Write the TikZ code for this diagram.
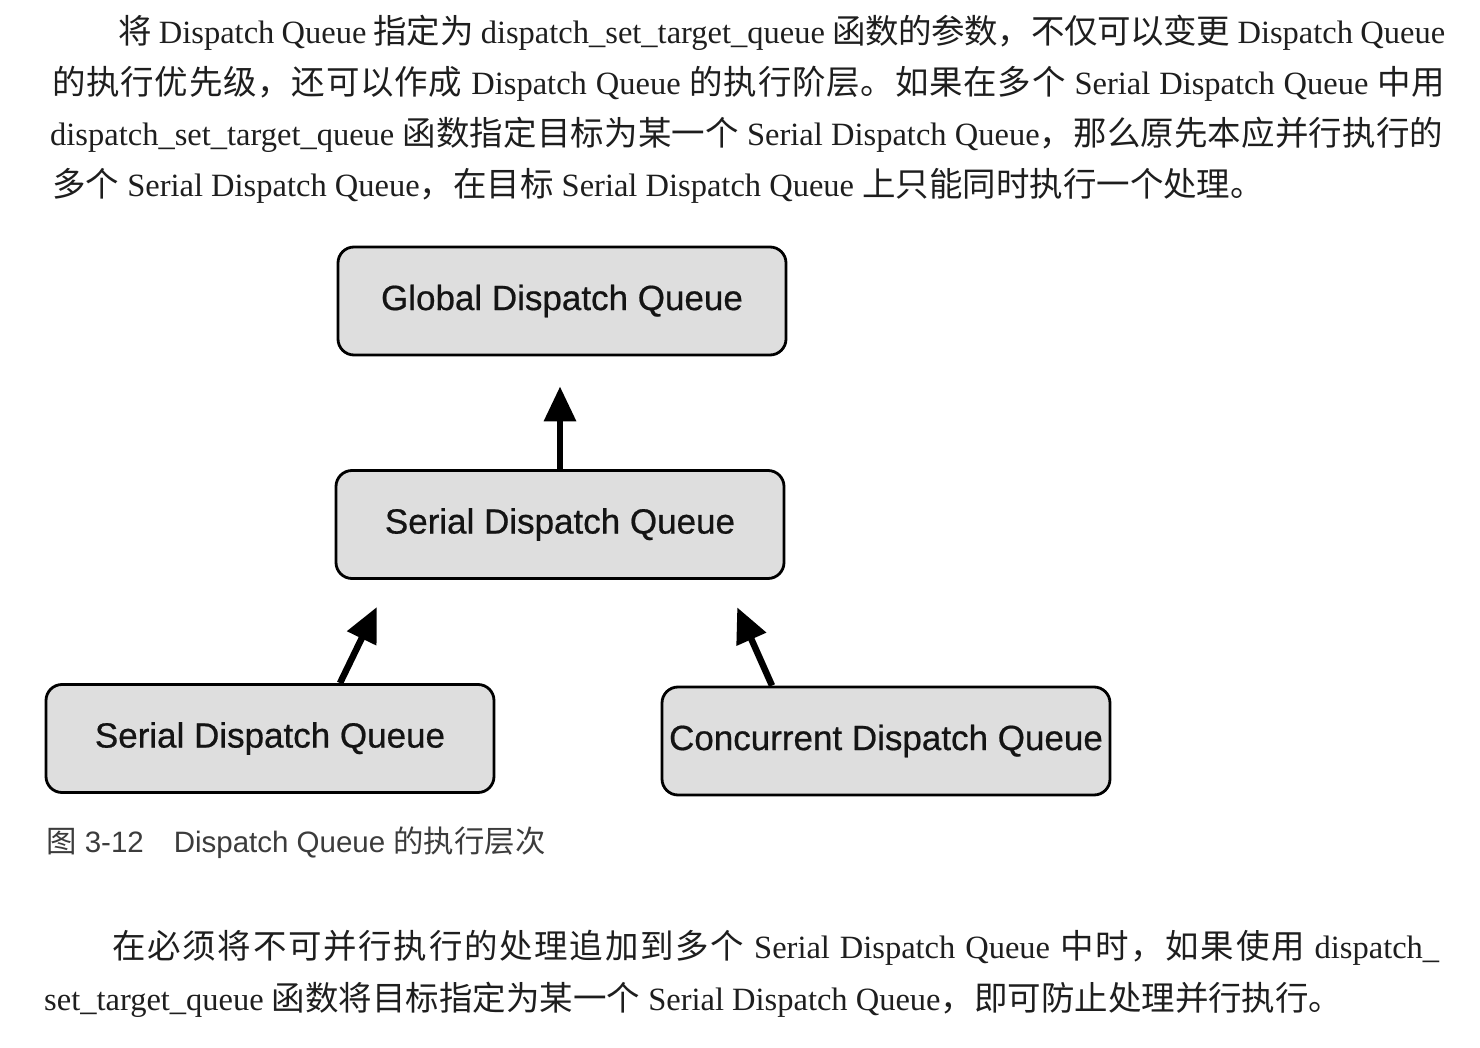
\documentclass[tikz,border=0pt]{standalone}
\usepackage{fontspec}
\setmainfont{Liberation Serif}
\setsansfont{Liberation Sans}
\newfontfamily\cjk[Scale=1.03]{Noto Sans CJK SC}
\newfontfamily\boxfont[FakeBold=0.6]{Liberation Sans}
\usetikzlibrary{arrows.meta}

% glue between CJK characters, so a line can be stretched to full width
\XeTeXinterchartokenstate=1
\newXeTeXintercharclass\cjkcls
\count255="4E00
\loop
  \XeTeXcharclass\count255=\cjkcls
  \ifnum\count255<"9FFF \advance\count255 by 1 \repeat
\XeTeXcharclass"FF0C=\cjkcls
\XeTeXcharclass"3002=\cjkcls
\XeTeXinterchartoks\cjkcls\cjkcls={\hskip 0pt plus 4pt minus 1pt\relax}

\newcommand{\zh}[1]{{\cjk #1}}
\newcommand{\us}{\_}

\definecolor{boxgray}{HTML}{DEDEDE}
\definecolor{inkgray}{HTML}{1E1E1E}
\definecolor{capgray}{HTML}{3C3C3C}

\tikzset{
  queuebox/.style={draw=black, line width=2.8pt, rounded corners=16pt, fill=boxgray,
    minimum width=448pt, minimum height=108pt, inner sep=0pt,
    font=\boxfont\fontsize{35}{35}\selectfont, text=black!92},
  uparrow/.style={line width=6.5pt, shorten >=30pt, -{Triangle[width=31pt,length=35pt]}},
  bodyline/.style={anchor=base west, inner sep=0pt, text=inkgray,
    font=\fontsize{32.5}{40}\selectfont},
  caption/.style={anchor=base west, inner sep=0pt, text=capgray,
    font=\sffamily\fontsize{29.5}{30}\selectfont}
}

\begin{document}
\begin{tikzpicture}[x=1pt, y=-1pt]
    % --- SETTINGS ---
    \def\Wa{1327}  % width of an indented line
    \def\Wb{1393}  % width of a full line

    \useasboundingbox (0,0) rectangle (1480,1048);

    % --- TEXT ABOVE ---
    \node[bodyline] (para1) at (118,44) {\makebox[\Wa pt][s]{\zh{将} Dispatch Queue \zh{指定为} dispatch\us set\us target\us queue \zh{函数的参数，不仅可以变更} Dispatch Queue}};
    \node[bodyline] (para2) at (52,95) {\makebox[\Wb pt][s]{\zh{的执行优先级，还可以作成} Dispatch Queue \zh{的执行阶层。如果在多个} Serial Dispatch Queue \zh{中用}}};
    \node[bodyline] (para3) at (50,146) {\makebox[\Wb pt][s]{dispatch\us set\us target\us queue \zh{函数指定目标为某一个} Serial Dispatch Queue\zh{，那么原先本应并行执行的}}};
    \node[bodyline] (para4) at (52,197) {\zh{多个} Serial Dispatch Queue\zh{，在目标} Serial Dispatch Queue \zh{上只能同时执行一个处理。}};

    % --- QUEUES ---
    \node[queuebox] (global) at (562,301) {Global Dispatch Queue};
    \node[queuebox] (serialtop) at (560,524.5) {Serial Dispatch Queue};
    \node[queuebox] (seriallow) at (270,738.5) {Serial Dispatch Queue};
    \node[queuebox] (concurrent) at (886,741) {Concurrent Dispatch Queue};

    % --- TARGET ARROWS ---
    \draw[uparrow] (serialtop.north) -- (serialtop.north |- global.south);
    \draw[uparrow] ([xshift=70pt]seriallow.north) -- ([xshift=-170pt]serialtop.south);
    \draw[uparrow] ([xshift=-114pt]concurrent.north) -- ([xshift=165pt]serialtop.south);

    % --- CAPTION ---
    \node[caption] (figcap) at (46,852) {\zh{图} 3-12\hspace{30pt}Dispatch Queue \zh{的执行层次}};

    % --- TEXT BELOW ---
    \node[bodyline] (para5) at (112,958) {\makebox[\Wa pt][s]{\zh{在必须将不可并行执行的处理追加到多个} Serial Dispatch Queue \zh{中时，如果使用} dispatch\us}};
    \node[bodyline] (para6) at (44,1010) {set\us target\us queue \zh{函数将目标指定为某一个} Serial Dispatch Queue\zh{，即可防止处理并行执行。}};
\end{tikzpicture}
\end{document}
